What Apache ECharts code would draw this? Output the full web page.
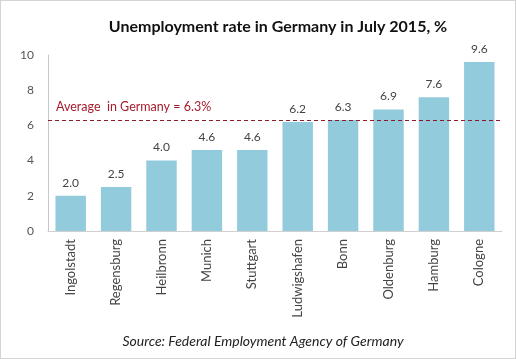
<!DOCTYPE html>
<html><head><meta charset="utf-8">
<script src="https://cdn.jsdelivr.net/npm/echarts@6/dist/echarts.min.js"></script>
<style>
html,body{margin:0;padding:0;background:#fff;}
#c{width:514px;height:357px;border:1px solid #d4d4d4;}
</style></head>
<body><div id="c"></div>
<script>
const cities = ['Ingolstadt','Regensburg','Heilbronn','Munich','Stuttgart','Ludwigshafen','Bonn','Oldenburg','Hamburg','Cologne'];
const rates = [2.0,2.5,4.0,4.6,4.6,6.2,6.3,6.9,7.6,9.6];
const average = 6.3;
const titleText = 'Unemployment rate in Germany in July 2015, %';
const sourceText = 'Source: Federal Employment Agency of Germany';

const font = 'Lato, "Open Sans", sans-serif';
const chart = echarts.init(document.getElementById('c'));
chart.setOption({
  animation:false,
  textStyle:{fontFamily:font},
  title:[
    {text:titleText,left:272,top:13,textAlign:'center',textStyle:{fontFamily:font,fontSize:16,fontWeight:'bold',color:'#111'}},
    {text:sourceText,left:257,top:328,textAlign:'center',textStyle:{fontFamily:font,fontSize:14,fontStyle:'italic',fontWeight:'normal',color:'#222'}}
  ],
  grid:{left:47,right:13,top:54,height:176},
  xAxis:{type:'category',data:cities,
    axisLine:{lineStyle:{color:'#d0d0d0'}},axisTick:{show:false},
    axisLabel:{rotate:90,color:'#444',fontSize:13,margin:8,interval:0}},
  yAxis:{type:'value',min:0,max:10,interval:2,
    axisLine:{show:true,lineStyle:{color:'#c8c8c8'}},axisTick:{show:false},
    splitLine:{show:false},
    axisLabel:{color:'#555',fontSize:12,margin:14}},
  series:[{type:'bar',data:rates,barCategoryGap:'33%',
    itemStyle:{color:'#92cbdb'},
    label:{show:true,position:'top',distance:7,color:'#444',fontSize:12,formatter:p=>p.value.toFixed(1)},
    markLine:{symbol:'none',silent:true,
      lineStyle:{color:'#8b1a2a',type:[4,3],width:1},
      label:{show:false},
      data:[{yAxis:average}]}
  }],
  graphic:[{type:'text',left:55,top:99,style:{text:'Average  in Germany = '+average+'%',fill:'#a51c2c',font:'12.5px '+font}}]
});
</script></body></html>
